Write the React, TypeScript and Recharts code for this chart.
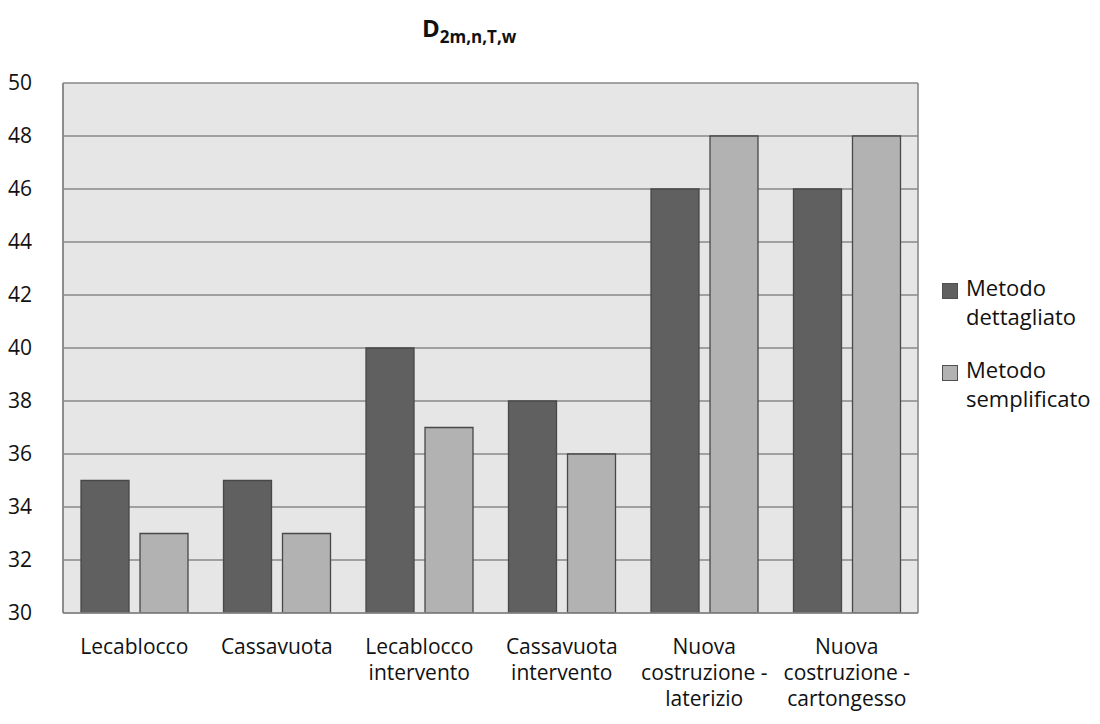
import React from 'react';
import { BarChart, Bar, XAxis, YAxis, CartesianGrid, Legend } from 'recharts';

const categories = [
  'Lecablocco',
  'Cassavuota',
  'Lecablocco intervento',
  'Cassavuota intervento',
  'Nuova costruzione - laterizio',
  'Nuova costruzione - cartongesso',
];
const categoryLines: string[][] = [
  ['Lecablocco'],
  ['Cassavuota'],
  ['Lecablocco', 'intervento'],
  ['Cassavuota', 'intervento'],
  ['Nuova', 'costruzione -', 'laterizio'],
  ['Nuova', 'costruzione -', 'cartongesso'],
];
const metodoDettagliato = [35, 35, 40, 38, 46, 46];
const metodoSemplificato = [33, 33, 37, 36, 48, 48];
const yTicks = [30, 32, 34, 36, 38, 40, 42, 44, 46, 48, 50];

const data = categories.map((c, i) => ({
  name: c,
  idx: i,
  dettagliato: metodoDettagliato[i],
  semplificato: metodoSemplificato[i],
}));

const FONT = '"Open Sans", Lato, sans-serif';
const DARK = '#606060';
const LIGHT = '#b2b2b2';
const GRID = '#898989';

const XTick = (props: any) => {
  const { x, y, payload } = props;
  const lines = categoryLines[payload.index] || [payload.value];
  return (
    <g transform={`translate(${x},${y})`}>
      {lines.map((l, i) => (
        <text key={i} x={0} y={33 + i * 26} textAnchor="middle" fontFamily={FONT} fontSize={21} fill="#111">
          {l}
        </text>
      ))}
    </g>
  );
};

const LegendContent = () => {
  const items = [
    { color: DARK, lines: ['Metodo', 'dettagliato'] },
    { color: LIGHT, lines: ['Metodo', 'semplificato'] },
  ];
  return (
    <div style={{ fontFamily: FONT, fontSize: 22, color: '#111', whiteSpace: 'nowrap' }}>
      {items.map((it, i) => (
        <div key={i} style={{ display: 'flex', alignItems: 'flex-start', marginBottom: i === 0 ? 25 : 0 }}>
          <div style={{ width: 14, height: 14, background: it.color, border: '1px solid #505050', marginTop: 9, marginRight: 8, flex: 'none' }} />
          <div style={{ lineHeight: '29px', marginTop: -1 }}>
            {it.lines.map((l, j) => (<div key={j}>{l}</div>))}
          </div>
        </div>
      ))}
    </div>
  );
};

export default function App() {
  return (
    <div style={{ position: 'absolute', left: 0, top: 0, width: 1100, height: 724, background: '#fff', overflow: 'hidden' }}>
      <svg style={{ position: 'absolute', left: 0, top: 0 }} width={1100} height={60}>
        <text x={422} y={37} fontFamily={FONT} fontWeight={700} fill="#111">
          <tspan fontSize={24}>D</tspan>
          <tspan fontSize={17} dy={6}>2m,n,T,w</tspan>
        </text>
      </svg>
      <BarChart
        width={1100}
        height={724}
        data={data}
        margin={{ top: 83, right: 24, bottom: 0, left: 0 }}
        barCategoryGap={18}
        barGap={11}
      >
        <CartesianGrid
          fill="#e6e6e6"
          stroke={GRID}
          strokeWidth={1.6}
          verticalCoordinatesGenerator={({ offset }: any) => [offset.left, offset.left + offset.width]}
        />
        <XAxis
          dataKey="name"
          tick={<XTick />}
          tickLine={false}
          axisLine={{ stroke: GRID, strokeWidth: 1.6 }}
          interval={0}
          height={111}
        />
        <YAxis
          domain={[30, 50]}
          ticks={yTicks}
          width={63}
          tickLine={false}
          axisLine={{ stroke: GRID, strokeWidth: 1.6 }}
          tickMargin={25}
          tick={{ fontFamily: FONT, fontSize: 21, fill: '#111' }}
          allowDataOverflow
        />
        <Legend
          layout="vertical"
          align="right"
          verticalAlign="top"
          content={<LegendContent />}
          wrapperStyle={{ position: 'absolute', left: 942, top: 274, width: 158 }}
        />
        <Bar dataKey="dettagliato" fill={DARK} stroke="#484848" strokeWidth={1.3} isAnimationActive={false} />
        <Bar dataKey="semplificato" fill={LIGHT} stroke="#484848" strokeWidth={1.3} isAnimationActive={false} />
      </BarChart>
    </div>
  );
}
